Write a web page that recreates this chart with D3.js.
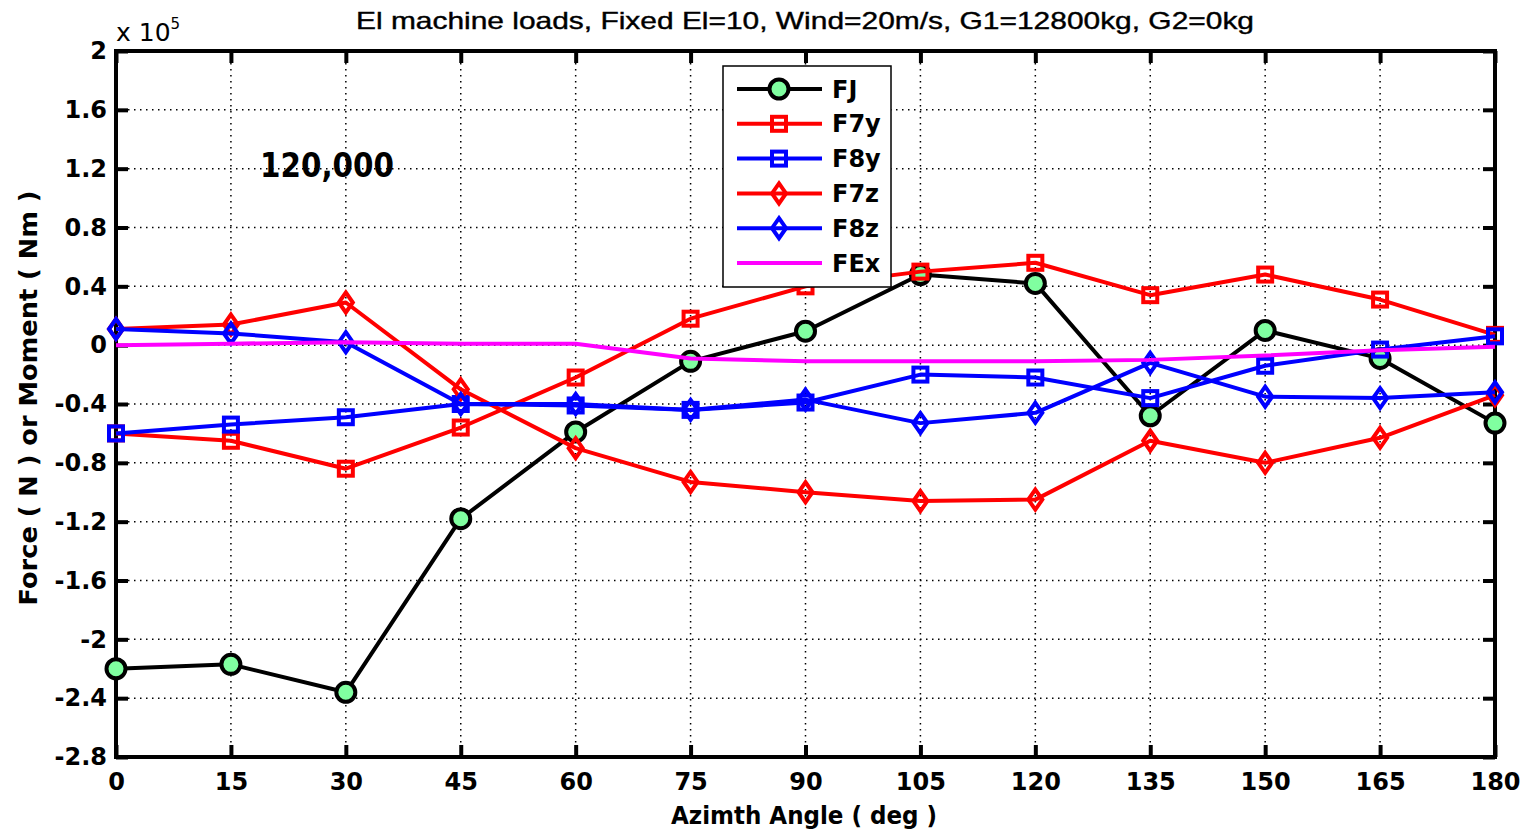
<!DOCTYPE html>
<html><head><meta charset="utf-8">
<script src="https://cdn.jsdelivr.net/npm/d3@7"></script>
<style>
html,body{margin:0;padding:0;background:#fff;}
text{font-family:"DejaVu Sans",sans-serif;}
</style></head>
<body><svg id="c" width="1525" height="830"></svg>
<script>
const angles = [0,15,30,45,60,75,90,105,120,135,150,165,180];
const xTicks = [0,15,30,45,60,75,90,105,120,135,150,165,180];
const yTicks = [2,1.6,1.2,0.8,0.4,0,-0.4,-0.8,-1.2,-1.6,-2,-2.4,-2.8];
const yTickLabels = ["2","1.6","1.2","0.8","0.4","0","-0.4","-0.8","-1.2","-1.6","-2","-2.4","-2.8"];
// values in units of 1e5 N / Nm
const FJ  = [-2.20,-2.17,-2.36,-1.18,-0.59,-0.11,0.095,0.48,0.42,-0.48,0.10,-0.09,-0.53];
const F7y = [-0.60,-0.65,-0.84,-0.56,-0.22,0.18,0.40,0.50,0.56,0.34,0.48,0.31,0.07];
const F8y = [-0.60,-0.54,-0.49,-0.40,-0.41,-0.44,-0.39,-0.20,-0.22,-0.36,-0.14,-0.03,0.06];
const F7z = [0.11,0.14,0.29,-0.30,-0.70,-0.93,-1.00,-1.06,-1.05,-0.65,-0.80,-0.63,-0.34];
const F8z = [0.11,0.08,0.02,-0.40,-0.40,-0.44,-0.37,-0.53,-0.46,-0.12,-0.35,-0.36,-0.32];
const FEx = [0.0,0.01,0.02,0.01,0.01,-0.09,-0.11,-0.11,-0.11,-0.10,-0.07,-0.035,-0.01];
const seriesNames = ["FJ","F7y","F8y","F7z","F8z","FEx"];
const seriesData = [FJ,F7y,F8y,F7z,F8z,FEx];
const seriesColors = ["#000000","#ff0000","#0000ff","#ff0000","#0000ff","#ff00ff"];
const seriesMarkers = ["circle","square","square","diamond","diamond","none"];
const titleText = "El machine loads, Fixed El=10, Wind=20m/s, G1=12800kg, G2=0kg";
const xLabel = "Azimth Angle ( deg )";
const yLabel = "Force ( N )  or  Moment ( Nm )";
const annotation = "120,000";

const svg = d3.select("#c");
const L=116, R=1495, T=51, B=757;
const x = d3.scaleLinear().domain([0,180]).range([L,R]);
const y = d3.scaleLinear().domain([-2.8,2]).range([B,T]);

const g = svg.append("g");
g.selectAll(".gx").data(xTicks.slice(1,-1)).enter().append("line")
  .attr("x1",d=>x(d)).attr("x2",d=>x(d)).attr("y1",T).attr("y2",B)
  .attr("stroke","#000").attr("stroke-width",1.5).attr("stroke-dasharray","1.5,4.5");
g.selectAll(".gy").data(yTicks.slice(1,-1)).enter().append("line")
  .attr("y1",d=>y(d)).attr("y2",d=>y(d)).attr("x1",L).attr("x2",R)
  .attr("stroke","#000").attr("stroke-width",1.5).attr("stroke-dasharray","1.5,4.5");

const xAxisB = d3.axisBottom(x).tickValues(xTicks).tickSize(-12).tickPadding(16).tickFormat(d3.format("d"));
const xAxisT = d3.axisTop(x).tickValues(xTicks).tickSize(-12).tickFormat("");
const yAxisL = d3.axisLeft(y).tickValues(yTicks).tickSize(-12).tickPadding(9).tickFormat((d,i)=>yTickLabels[i]);
const yAxisR = d3.axisRight(y).tickValues(yTicks).tickSize(-12).tickFormat("");
function styleAxis(sel){
  sel.select(".domain").remove();
  sel.selectAll(".tick line").attr("stroke","#000").attr("stroke-width",4);
  sel.selectAll(".tick text").attr("fill","#000").attr("font-size",24).attr("font-weight","bold")
    .style("font-family","'DejaVu Sans',sans-serif");
}
svg.append("g").attr("transform",`translate(0,${B})`).call(xAxisB).call(styleAxis);
svg.append("g").attr("transform",`translate(0,${T})`).call(xAxisT).call(styleAxis);
svg.append("g").attr("transform",`translate(${L},0)`).call(yAxisL).call(styleAxis);
svg.append("g").attr("transform",`translate(${R},0)`).call(yAxisR).call(styleAxis);
svg.append("rect").attr("x",L).attr("y",T).attr("width",R-L).attr("height",B-T)
  .attr("fill","none").attr("stroke","#000").attr("stroke-width",4);

const line = d3.line().x((d,i)=>x(angles[i])).y(d=>y(d));
const plot = svg.append("g");
function drawMarker(sel, type, color, cx, cy){
  if(type==="circle"){
    sel.append("circle").attr("cx",cx).attr("cy",cy).attr("r",9.5)
      .attr("fill","#80ffa0").attr("stroke","#000").attr("stroke-width",4);
  } else if(type==="square"){
    sel.append("rect").attr("x",cx-7).attr("y",cy-7).attr("width",14).attr("height",14)
      .attr("fill","none").attr("stroke",color).attr("stroke-width",4);
  } else if(type==="diamond"){
    sel.append("path").attr("d",`M${cx},${cy-10}L${cx+7},${cy}L${cx},${cy+10}L${cx-7},${cy}Z`)
      .attr("fill","none").attr("stroke",color).attr("stroke-width",4);
  }
}
seriesData.forEach((data,k)=>{
  const gg = plot.append("g");
  gg.append("path").datum(data).attr("d",line).attr("fill","none")
    .attr("stroke",seriesColors[k]).attr("stroke-width",4).attr("stroke-linejoin","round");
  if(seriesMarkers[k]!=="none"){
    data.forEach((v,i)=>drawMarker(gg, seriesMarkers[k], seriesColors[k], x(angles[i]), y(v)));
  }
});

const lg = svg.append("g");
lg.append("rect").attr("x",723).attr("y",66).attr("width",168).attr("height",221)
  .attr("fill","#fff").attr("stroke","#000").attr("stroke-width",1.5);
seriesNames.forEach((n,k)=>{
  const yy = 89 + k*34.8;
  lg.append("line").attr("x1",737).attr("x2",822).attr("y1",yy).attr("y2",yy)
    .attr("stroke",seriesColors[k]).attr("stroke-width",4);
  drawMarker(lg, seriesMarkers[k], seriesColors[k], 779, yy);
  lg.append("text").attr("x",832).attr("y",yy+8.5).attr("font-size",24).attr("font-weight","bold")
    .attr("fill","#000").text(n);
});

svg.append("text").attr("x",805).attr("y",29).attr("text-anchor","middle").attr("font-size",24)
  .style("font-family","'Liberation Sans',Arial,sans-serif")
  .attr("textLength",898).attr("lengthAdjust","spacingAndGlyphs")
  .attr("fill","#000").attr("stroke","#000").attr("stroke-width",0.4).text(titleText);
svg.append("text").attr("x",804).attr("y",824).attr("text-anchor","middle").attr("font-size",24)
  .attr("textLength",266).attr("lengthAdjust","spacingAndGlyphs")
  .attr("font-weight","bold").attr("fill","#000").text(xLabel);
svg.append("text").attr("transform","translate(37,398) rotate(-90)").attr("text-anchor","middle")
  .attr("textLength",415).attr("lengthAdjust","spacingAndGlyphs")
  .attr("font-size",24).attr("font-weight","bold").attr("fill","#000").text(yLabel);
const ex = svg.append("text").attr("x",116).attr("y",41).attr("font-size",25).attr("fill","#000");
ex.append("tspan").text("x 10");
ex.append("tspan").attr("dy",-12).attr("font-size",15).text("5");
svg.append("text").attr("x",260).attr("y",177).attr("font-size",33).attr("font-weight","bold")
  .attr("textLength",134).attr("lengthAdjust","spacingAndGlyphs")
  .attr("fill","#000").text(annotation);
</script></body></html>
